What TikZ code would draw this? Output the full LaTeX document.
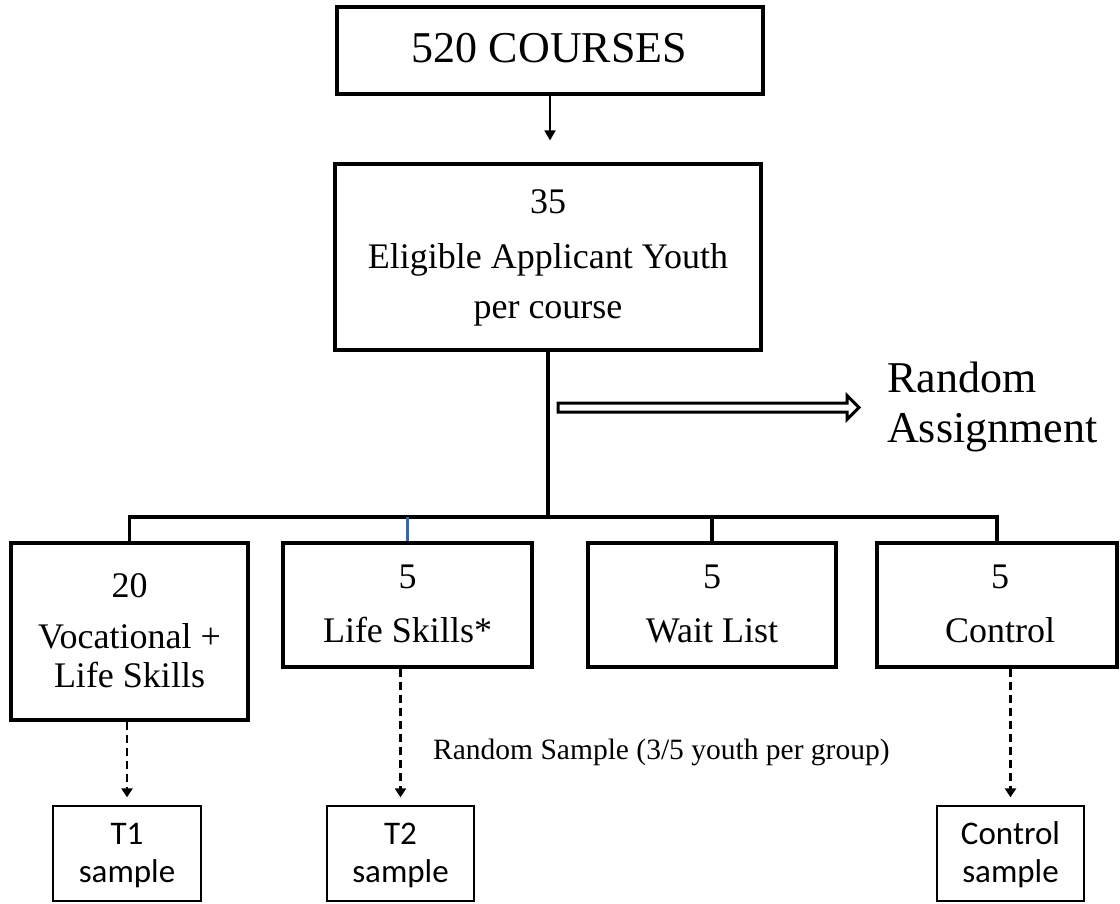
\documentclass[tikz,border=0pt]{standalone}
\usepackage{fontspec}
\setmainfont{Liberation Serif}
\newfontfamily\calib{Carlito}
\usetikzlibrary{arrows.meta}
\definecolor{linkblue}{RGB}{60,100,165}
\begin{document}
\begin{tikzpicture}[x=1pt,y=-1pt,
  box/.style={draw, line width=3.2pt, inner sep=0pt},
  sbox/.style={draw, line width=1.3pt, inner sep=0pt},
  txt/.style={anchor=base, inner sep=0pt},
  bigtxt/.style={txt, font=\fontsize{44}{48}\selectfont},
  boxtxt/.style={txt, font=\fontsize{36}{40}\selectfont},
  smptxt/.style={txt, font=\calib\fontsize{33}{36}\selectfont},
  conn/.style={line width=3.2pt},
  thinarrow/.style={line width=1.8pt, -{Triangle[width=11pt,length=10pt]}},
  dasharrow/.style={line width=2.4pt, dash pattern=on 8pt off 5pt, -{Triangle[width=11pt,length=9pt]}}
]
\useasboundingbox (0,0) rectangle (1120,903);

% boxes
\node[box, minimum width=426pt, minimum height=87pt] (top) at (550,50.5) {};
\node[box, minimum width=426pt, minimum height=186pt] (elig) at (548,257) {};
\node[box, minimum width=237pt, minimum height=177pt] (b1) at (129.5,631.5) {};
\node[box, minimum width=249pt, minimum height=124pt] (b2) at (407.5,605) {};
\node[box, minimum width=248pt, minimum height=124pt] (b3) at (712,605) {};
\node[box, minimum width=240pt, minimum height=124pt] (b4) at (997,605) {};
\node[sbox, minimum width=148pt, minimum height=95pt] (t1) at (127,853.5) {};
\node[sbox, minimum width=147pt, minimum height=95pt] (t2) at (400.5,853.5) {};
\node[sbox, minimum width=147pt, minimum height=95pt] (tc) at (1010.5,853.5) {};

% texts
\node[bigtxt] (toptxt) at (549.5,62) {520 COURSES};
\node[boxtxt] (e1) at (548,213) {35};
\node[boxtxt] (e2) at (548,268) {Eligible Applicant Youth};
\node[boxtxt] (e3) at (548,318) {per course};
\node[boxtxt] (b1a) at (129.5,597) {20};
\node[boxtxt] (b1b) at (129.5,648) {Vocational +};
\node[boxtxt] (b1c) at (129.5,687) {Life Skills};
\node[boxtxt] (b2a) at (407.5,588) {5};
\node[boxtxt] (b2b) at (407.5,642) {Life Skills*};
\node[boxtxt] (b3a) at (712,588) {5};
\node[boxtxt] (b3b) at (712,642) {Wait List};
\node[boxtxt] (b4a) at (1000,588) {5};
\node[boxtxt] (b4b) at (1000,642) {Control};
\node[smptxt] (t1a) at (127,844) {T1};
\node[smptxt] (t1b) at (127,882) {sample};
\node[smptxt] (t2a) at (400.5,844) {T2};
\node[smptxt] (t2b) at (400.5,882) {sample};
\node[smptxt] (tca) at (1010.5,844) {Control};
\node[smptxt] (tcb) at (1010.5,882) {sample};
\node[bigtxt, anchor=base west] (ra1) at (887,392) {Random};
\node[bigtxt, anchor=base west] (ra2) at (887,442) {Assignment};
\node[txt, anchor=base west, font=\fontsize{29.5}{32}\selectfont] (rs) at (433,759) {Random Sample (3/5 youth per group)};

% connectors
\draw[thinarrow, shorten >=22pt] (top.south) -- (top.south |- elig.north);
\coordinate (bus) at (548,517);
\draw[conn] (elig.south) -- (bus);
\draw[conn] (b1.north) -- (b1.north |- bus) -- (b4.north |- bus) -- (b4.north);
\draw[conn] (b3.north |- bus) -- (b3.north);
\draw[conn, linkblue] (b2.north |- bus) -- (b2.north);

\draw[dasharrow, shorten >=8pt] (t1.north |- b1.south) -- (t1.north);
\draw[dasharrow, shorten >=8pt] (t2.north |- b2.south) -- (t2.north);
\draw[dasharrow, shorten >=8pt] (tc.north |- b4.south) -- (tc.north);

% random assignment arrow
\draw[line width=3pt, fill=white, line join=miter]
  (558,403) -- (847,403) -- (847,395.5) -- (859,407.5) -- (847,419.5) -- (847,412) -- (558,412) -- cycle;
\end{tikzpicture}
\end{document}
